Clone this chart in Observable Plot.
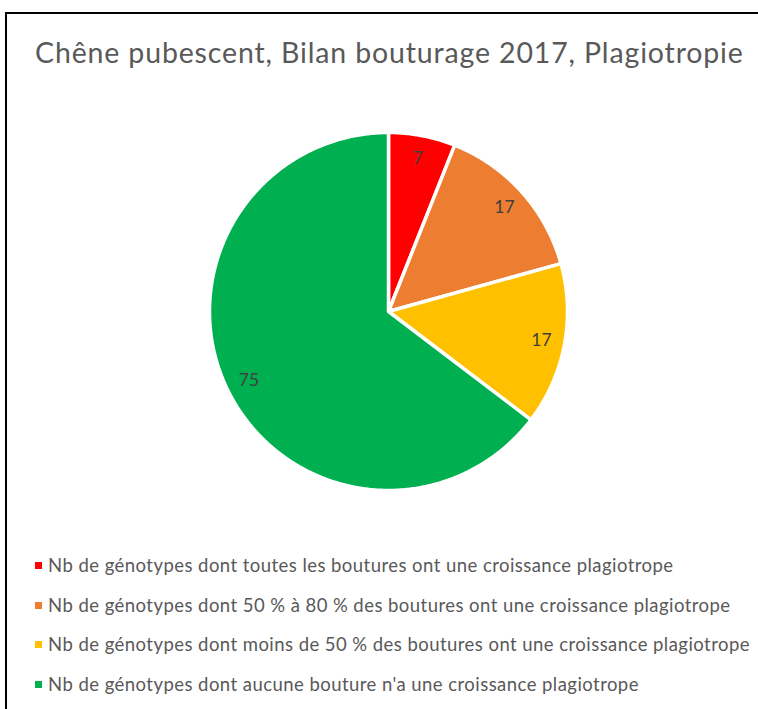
<!DOCTYPE html>
<html>
<head>
<meta charset="utf-8">
<script src="https://cdn.jsdelivr.net/npm/d3@7"></script>
<script src="https://cdn.jsdelivr.net/npm/@observablehq/plot@0.6"></script>
<style>
  html, body { margin: 0; padding: 0; background: #fff; overflow: hidden; }
  #frame { position: absolute; left: 5px; top: 12px; width: 820px; height: 800px; border: 2px solid #000; box-sizing: border-box; }
  #title { position: absolute; left: 35px; top: 35px; font-family: Lato, "Open Sans", sans-serif; font-size: 28.5px; letter-spacing: 0.85px; color: #595959; white-space: nowrap; }
  #chart { position: absolute; left: 0; top: 100px; }
  .leg { position: absolute; left: 35px; font-family: Lato, "Open Sans", sans-serif; font-size: 18.5px; letter-spacing: 0.45px; color: #595959; white-space: nowrap; display: flex; align-items: center; }
  .sw { width: 7px; height: 7px; margin-right: 6px; display: inline-block; }
</style>
</head>
<body>
<div id="frame"></div>
<div id="title"></div>
<div id="chart"></div>
<div id="legend"></div>
<script>
const title = "Chêne pubescent, Bilan bouturage 2017, Plagiotropie";
const categories = [
  "Nb de génotypes dont toutes les boutures ont une croissance plagiotrope",
  "Nb de génotypes dont 50\u202F% à 80\u202F% des boutures ont une croissance plagiotrope",
  "Nb de génotypes dont moins de 50\u202F% des boutures ont une croissance plagiotrope",
  "Nb de génotypes dont aucune bouture n'a une croissance plagiotrope"
];
const values = [7, 17, 17, 75];
const colors = ["#FF0000", "#ED7D31", "#FFC000", "#00B050"];

document.getElementById("title").textContent = title;

const data = categories.map((c, i) => ({category: c, value: values[i]}));
const arcs = d3.pie().sort(null).value(d => d.value)(data);

// Build slice outlines from pie angles (angle measured clockwise from top)
const slicePts = [];
arcs.forEach(a => {
  const cat = a.data.category;
  slicePts.push({category: cat, x: 0, y: 0});
  const n = Math.max(2, Math.ceil((a.endAngle - a.startAngle) / (Math.PI / 360)));
  for (let k = 0; k <= n; k++) {
    const t = a.startAngle + (a.endAngle - a.startAngle) * k / n;
    slicePts.push({category: cat, x: Math.sin(t), y: Math.cos(t)});
  }
  slicePts.push({category: cat, x: 0, y: 0});
});
const labels = arcs.map(a => {
  const m = (a.startAngle + a.endAngle) / 2;
  return {category: a.data.category, value: a.data.value, x: 0.87 * Math.sin(m), y: 0.87 * Math.cos(m)};
});

const plot = Plot.plot({
  width: 758,
  height: 422,
  marginLeft: 209,
  marginRight: 191,
  marginTop: 32,
  marginBottom: 32,
  x: {domain: [-1, 1], axis: null},
  y: {domain: [-1, 1], axis: null},
  color: {domain: categories, range: colors},
  style: {background: "transparent", overflow: "visible"},
  marks: [
    Plot.line(slicePts, {x: "x", y: "y", z: "category", fill: "category", stroke: "#fff", strokeWidth: 3.5, strokeLinejoin: "round", curve: "linear"}),
    Plot.text(labels, {x: "x", y: "y", text: d => String(d.value), fill: "#404040", fontSize: 17.5, fontFamily: "Lato, 'Open Sans', sans-serif"})
  ]
});
document.getElementById("chart").appendChild(plot);

const legendTops = [566, 606, 645, 685];
const leg = document.getElementById("legend");
categories.forEach((c, i) => {
  const row = document.createElement("div");
  row.className = "leg";
  row.style.top = (legendTops[i] - 12) + "px";
  const sw = document.createElement("span");
  sw.className = "sw";
  sw.style.background = colors[i];
  row.appendChild(sw);
  const tx = document.createElement("span");
  tx.textContent = c;
  row.appendChild(tx);
  leg.appendChild(row);
});
</script>
</body>
</html>
